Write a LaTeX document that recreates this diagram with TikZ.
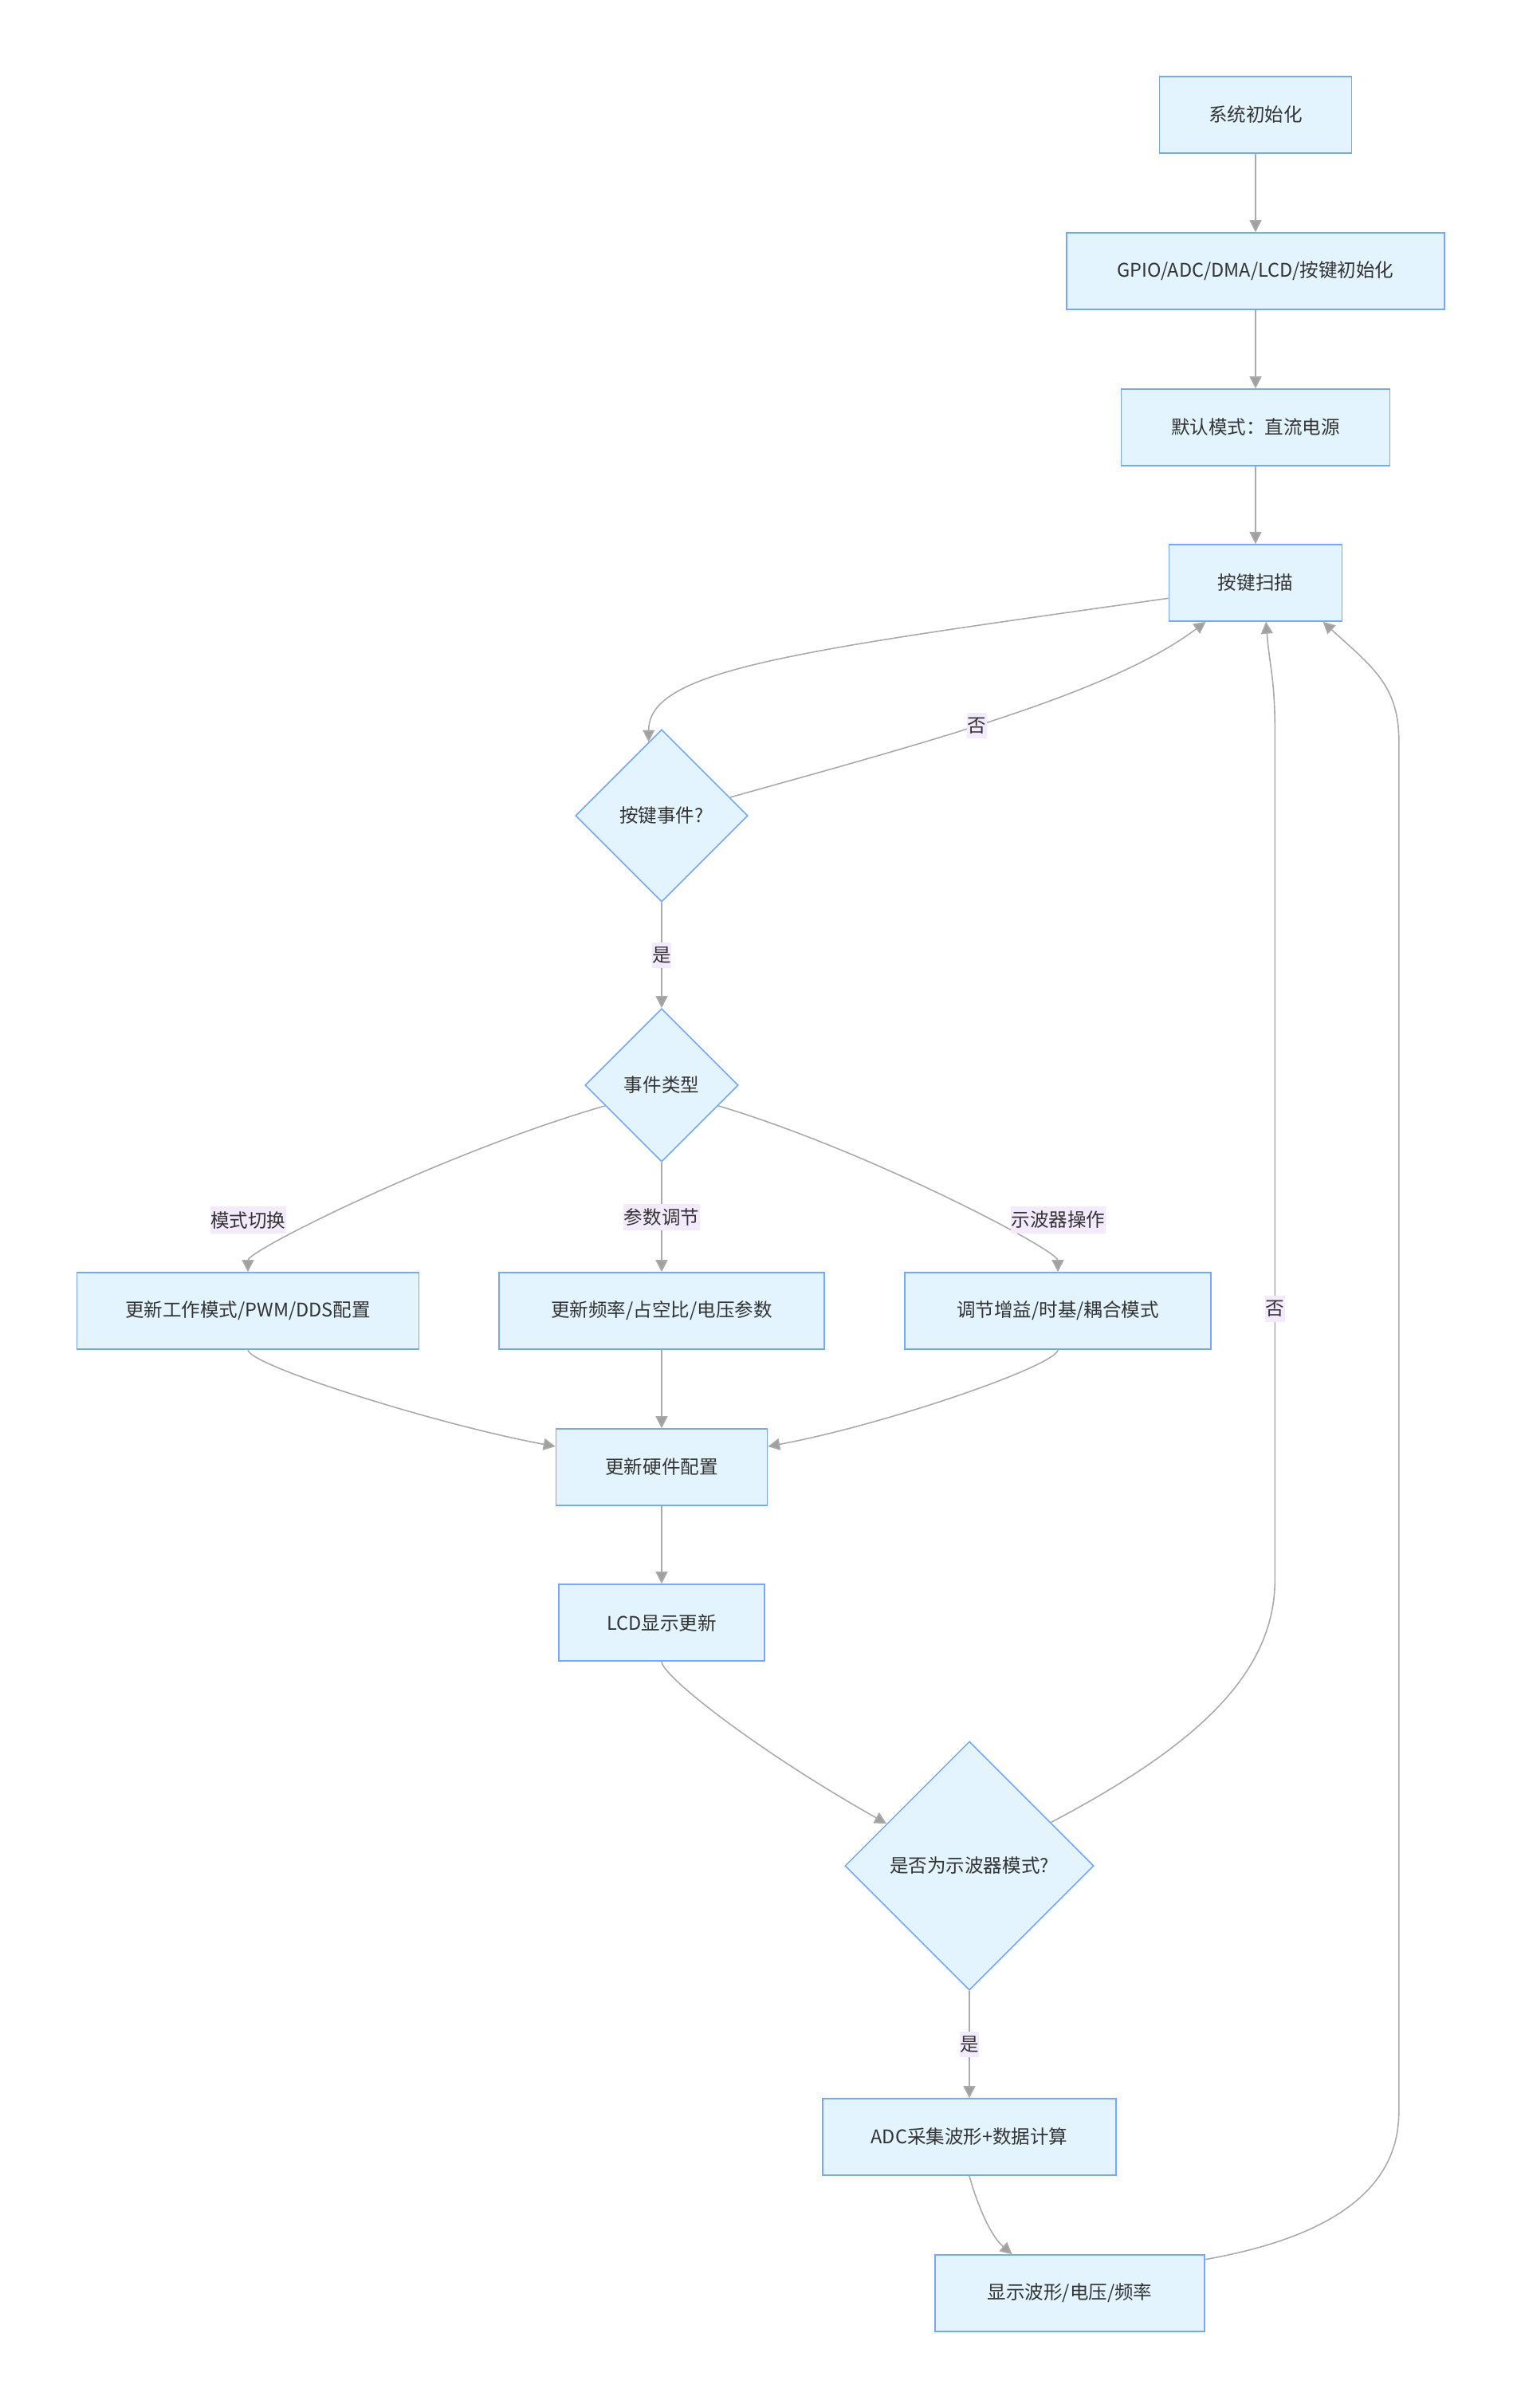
\documentclass[tikz,border=0pt]{standalone}
\usepackage{fontspec}
\newfontfamily\cjk{Noto Sans CJK SC}
\usepackage{tikz}
\usetikzlibrary{shapes,arrows.meta}
\definecolor{boxfill}{HTML}{E3F4FE}
\definecolor{boxline}{HTML}{74A8FF}
\definecolor{edgegray}{HTML}{AAAAAA}
\definecolor{tipgray}{HTML}{A0A0A0}
\definecolor{lblfill}{HTML}{F3EBFD}
\definecolor{txtgray}{HTML}{333333}
\newcommand{\nodefont}{\cjk\fontsize{13.4pt}{16pt}\selectfont}

\begin{document}
\begin{tikzpicture}[node distance = 3.92cm]
        \tikzstyle{block} = [rectangle, draw=boxline, fill=boxfill, line width=0.9pt, minimum height=1.92cm, text=txtgray, font=\nodefont]
        \tikzstyle{decision} = [diamond, draw=boxline, fill=boxfill, line width=0.9pt, inner sep=0pt, text=txtgray, font=\nodefont]
        \tikzstyle{line} = [draw=edgegray, line width=0.9pt, -{Triangle[length=0.3cm, width=0.3cm, fill=tipgray]}]
        \tikzstyle{lbl} = [fill=lblfill, inner xsep=0.3pt, inner ysep=0.12cm, text=txtgray, font=\nodefont]

    \path [use as bounding box, fill=white] (0,0) rectangle (38.16,-60.4);

    \node [block, minimum width=4.82cm] (init) at (31.5,-2.88) {系统初始化};
    \node [block, minimum width=9.48cm, below of=init] (periph) {GPIO/ADC/DMA/LCD/按键初始化};
    \node [block, minimum width=6.74cm, below of=periph] (dflt) {默认模式：直流电源};
    \node [block, minimum width=4.34cm, below of=dflt, node distance=3.9cm] (scan) {按键扫描};
    \node [decision, minimum size=4.32cm, below of=scan, node distance=5.84cm, xshift=-14.9cm] (keyq) {按键事件?};
    \node [decision, minimum size=3.84cm, below of=keyq, node distance=6.76cm] (evtype) {事件类型};

    \node [block, minimum width=8.16cm, below of=evtype, node distance=5.66cm] (param) {更新频率/占空比/电压参数};
    \node [block, minimum width=8.58cm, left of=param, node distance=10.38cm] (mode) {更新工作模式/PWM/DDS配置};
    \node [block, minimum width=7.68cm, right of=param, node distance=9.94cm] (scopeop) {调节增益/时基/耦合模式};
    \node [block, minimum width=5.3cm, below of=param] (hw) {更新硬件配置};
    \node [block, minimum width=5.16cm, below of=hw, node distance=3.9cm] (lcd) {LCD显示更新};

    \node [decision, minimum size=6.24cm, below of=lcd, node distance=6.1cm, xshift=7.72cm] (scopeq) {是否为示波器模式?};
    \node [block, minimum width=7.36cm, below of=scopeq, node distance=6.8cm] (adc) {ADC采集波形+数据计算};
    \node [block, minimum width=6.76cm, below of=adc, xshift=2.52cm] (show) {显示波形/电压/频率};

    \path [line] (init) -- (periph);
    \path [line] (periph) -- (dflt);
    \path [line] (dflt) -- (scan);
    \path [line] (scan.190) .. controls +(-9.34,-1.32) and +(0,1.82) .. (keyq.100);
    \path [line] (keyq.15) .. controls +(5.0,1.4) and +(-2.4,-1.8) .. node [lbl, pos=0.44] {否} (scan.218);
    \path [line] (keyq) -- node [lbl] {是} (evtype);

    \path [line] (evtype.200) .. controls +(-3.96,-1.14) and +(0,1.52) .. node [lbl, pos=0.72, xshift=-1.04cm, yshift=0.46cm] {模式切换} (mode);
    \path [line] (evtype) -- node [lbl] {参数调节} (param);
    \path [line] (evtype.340) .. controls +(3.76,-1.12) and +(0,1.52) .. node [lbl, pos=0.72, xshift=1.0cm, yshift=0.46cm] {示波器操作} (scopeop);

    \path [line] (mode) .. controls +(0,-1.36) and +(-3.0,0.56) .. (hw.169);
    \path [line] (param) -- (hw);
    \path [line] (scopeop) .. controls +(0,-1.36) and +(3.0,0.56) .. (hw.11);
    \path [line] (hw) -- (lcd);
    \path [line] (lcd) .. controls +(0,-1.34) and +(-3.2,1.8) .. (scopeq.153);

    \path [line] (scopeq) -- node [lbl] {是} (adc);
    \path [line] (scopeq.28) .. controls +(3.6,1.9) and +(0,-2.4) .. ++(5.62,6.1) -- node [lbl, pos=0.32] {否} ++(0,21.2) .. controls +(0,1.4) and +(0.1,-1.2) .. (scan.285);
    \path [line] (adc) .. controls +(0,-1.0) and +(-0.7,0.6) .. (show.146);
    \path [line] (show.14) .. controls +(3.4,0.6) and +(0,-1.8) .. ++(4.86,3.7) -- ++(0,34.4) .. controls +(0,1.4) and +(1.2,-1.1) .. (scan.330);
    \end{tikzpicture}
\end{document}
